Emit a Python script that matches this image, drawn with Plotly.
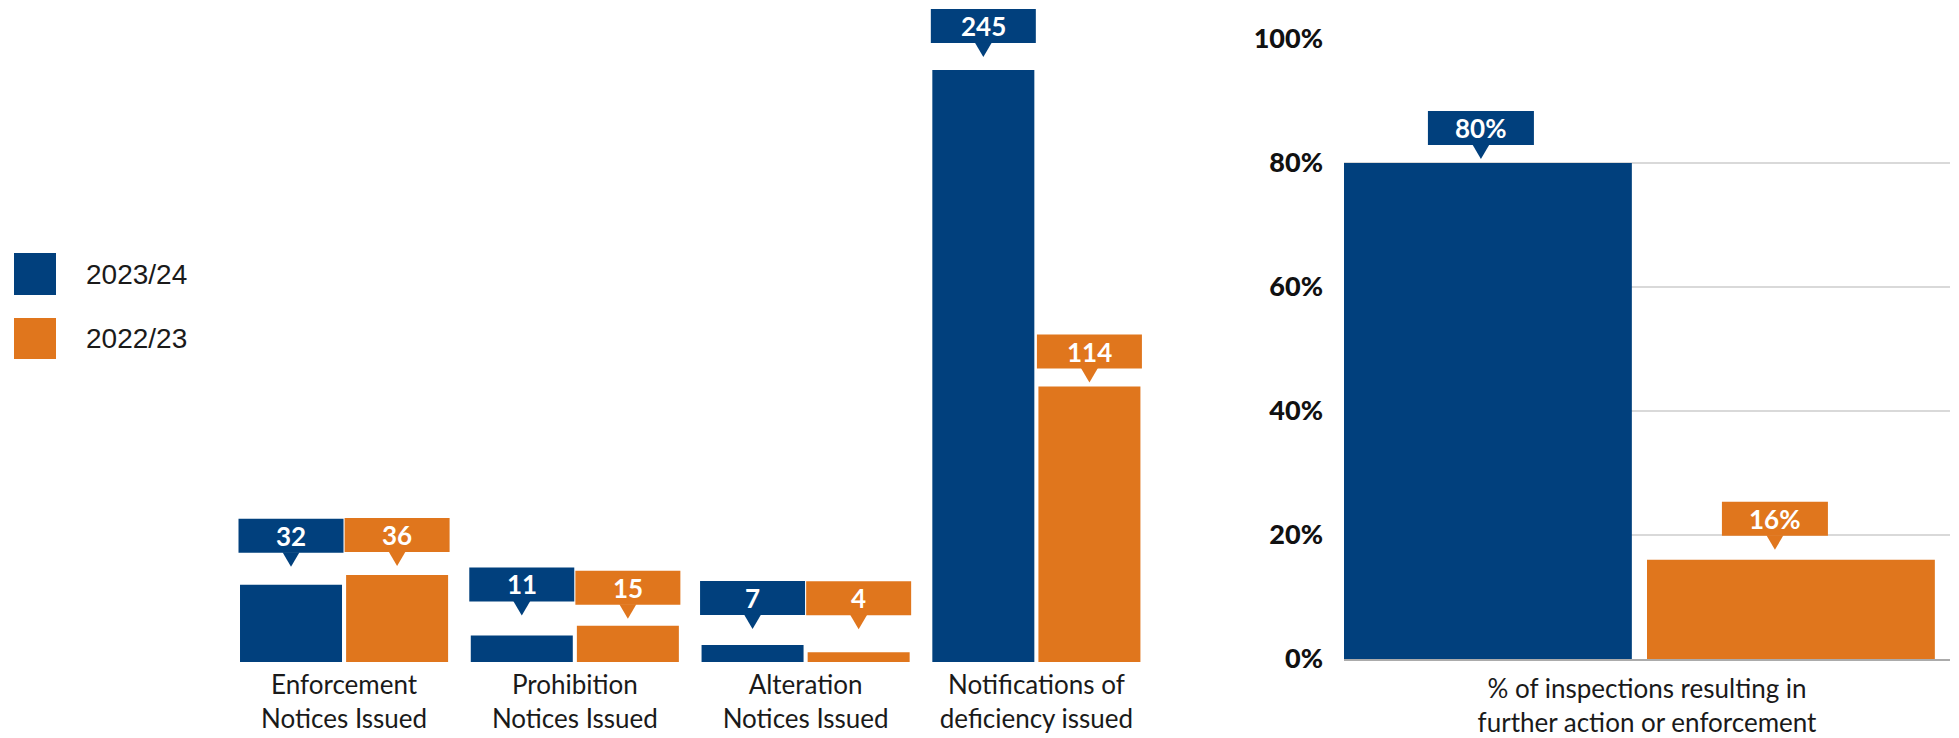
import plotly.graph_objects as go

# ---------------- data ----------------
categories = [
    "Enforcement<br>Notices Issued",
    "Prohibition<br>Notices Issued",
    "Alteration<br>Notices Issued",
    "Notifications of<br>deficiency issued",
]
series_names = ["2023/24", "2022/23"]
values_2023_24 = [32, 11, 7, 245]
values_2022_23 = [36, 15, 4, 114]

pct_category = ["% of inspections resulting in<br>further action or enforcement"]
pct_2023_24 = [80]
pct_2022_23 = [16]
pct_ticks = [0, 20, 40, 60, 80, 100]
pct_tick_labels = ["0%", "20%", "40%", "60%", "80%", "100%"]

# ---------------- style ----------------
W, H = 1959, 738
BLUE = "#01407D"
ORANGE = "#E0761D"
FONT = "Lato"
TXT = "#1a1a1a"


def fx(p):
    return p / W


def fy(p):
    return 1 - p / H


# bar geometry (category units)
BW_L, OFF_B_L, OFF_O_L = 0.442, -0.451, 0.0087
BW_R, OFF_B_R, OFF_O_R = 0.475, -0.5, 0.0

# callout styling (pixel gaps between bar top and box bottom)
gap_blue_left = [32, 34, 30, 27]
gap_orange_left = [23, 21, 37, 18]
gap_right = [18, 24]
xshift_right = [-7, -16]
BOX_H = 34
TRI_H = 14
TRI_W = 17

fig = go.Figure()

fig.add_trace(go.Bar(x=categories, y=values_2023_24, name=series_names[0],
                     marker=dict(color=BLUE, line=dict(width=0)),
                     width=[BW_L] * len(categories), offset=OFF_B_L,
                     xaxis="x", yaxis="y", hoverinfo="skip", showlegend=False))
fig.add_trace(go.Bar(x=categories, y=values_2022_23, name=series_names[1],
                     marker=dict(color=ORANGE, line=dict(width=0)),
                     width=[BW_L] * len(categories), offset=OFF_O_L,
                     xaxis="x", yaxis="y", hoverinfo="skip", showlegend=False))
fig.add_trace(go.Bar(x=pct_category, y=pct_2023_24, name=series_names[0],
                     marker=dict(color=BLUE, line=dict(width=0)),
                     width=[BW_R], offset=OFF_B_R,
                     xaxis="x2", yaxis="y2", hoverinfo="skip", showlegend=False))
fig.add_trace(go.Bar(x=pct_category, y=pct_2022_23, name=series_names[1],
                     marker=dict(color=ORANGE, line=dict(width=0)),
                     width=[BW_R], offset=OFF_O_R,
                     xaxis="x2", yaxis="y2", hoverinfo="skip", showlegend=False))

shapes = []
annotations = []


def callout(xref, yref, xc, yv, text, color, gap, xshift, boxw):
    shapes.append(dict(type="rect", xref=xref, yref=yref,
                       xsizemode="pixel", ysizemode="pixel",
                       xanchor=xc, yanchor=yv,
                       x0=xshift - boxw / 2, x1=xshift + boxw / 2,
                       y0=gap, y1=gap + BOX_H,
                       fillcolor=color, line=dict(width=0), layer="above"))
    shapes.append(dict(type="path", xref=xref, yref=yref,
                       xsizemode="pixel", ysizemode="pixel",
                       xanchor=xc, yanchor=yv,
                       path=f"M {xshift - TRI_W / 2},{gap + 0.5} L {xshift + TRI_W / 2},{gap + 0.5} L {xshift},{gap - TRI_H} Z",
                       fillcolor=color, line=dict(width=0), layer="above"))
    annotations.append(dict(x=xc, y=yv, xref=xref, yref=yref, text=f"<b>{text}</b>",
                            showarrow=False, xshift=xshift, yshift=gap + BOX_H / 2,
                            font=dict(family=FONT, size=26, color="white"),
                            xanchor="center", yanchor="middle"))


for i, v in enumerate(values_2023_24):
    callout("x", "y", i + OFF_B_L + BW_L / 2, v, str(v), BLUE, gap_blue_left[i], 0, 105)
for i, v in enumerate(values_2022_23):
    callout("x", "y", i + OFF_O_L + BW_L / 2, v, str(v), ORANGE, gap_orange_left[i], 0, 105)
callout("x2", "y2", OFF_B_R + BW_R / 2, pct_2023_24[0], f"{pct_2023_24[0]}%", BLUE,
        gap_right[0], xshift_right[0], 106)
callout("x2", "y2", OFF_O_R + BW_R / 2, pct_2022_23[0], f"{pct_2022_23[0]}%", ORANGE,
        gap_right[1], xshift_right[1], 106)

# manual legend
legend_rows = [(253, 295), (318, 359)]
for name, color, (t, b) in zip(series_names, [BLUE, ORANGE], legend_rows):
    shapes.append(dict(type="rect", xref="paper", yref="paper",
                       x0=fx(14), x1=fx(56), y0=fy(b), y1=fy(t),
                       fillcolor=color, line=dict(width=0)))
    annotations.append(dict(x=fx(84), y=fy((t + b) / 2), xref="paper", yref="paper",
                            text=name, showarrow=False, xanchor="left", yanchor="middle",
                            font=dict(family="Liberation Sans", size=28, color=TXT)))

fig.update_layout(
    width=W, height=H,
    margin=dict(l=0, r=0, t=0, b=0),
    paper_bgcolor="white", plot_bgcolor="white",
    barmode="overlay",
    showlegend=False,
    font=dict(family=FONT, color=TXT),
    shapes=shapes,
    annotations=annotations,
    xaxis=dict(domain=[fx(228.7), fx(1151.8)], range=[-0.5, 3.5], type="category",
               showgrid=False, showline=False, zeroline=False, ticks="",
               ticklabelstandoff=5,
               tickfont=dict(family=FONT, size=26, color=TXT), automargin=False,
               anchor="y", fixedrange=True),
    yaxis=dict(domain=[fy(662), 1.0], range=[0, 274], visible=False,
               anchor="x", fixedrange=True),
    xaxis2=dict(domain=[fx(1344), fx(1950)], range=[-0.5, 0.5], type="category",
                showgrid=False, showline=True, linecolor="#ababab", linewidth=2,
                zeroline=False, ticks="", ticklabelstandoff=6,
                tickfont=dict(family=FONT, size=26, color=TXT), automargin=False,
                anchor="y2", fixedrange=True),
    yaxis2=dict(domain=[fy(659), fy(39)], range=[0, 100], tickvals=pct_ticks,
                ticktext=pct_tick_labels, showgrid=True, gridcolor="#d9d9d9",
                gridwidth=1.5, zeroline=False, showline=False, ticks="",
                ticklabelstandoff=20,
                tickfont=dict(family=FONT, size=27, color="#111111", weight=900),
                automargin=False, anchor="x2", fixedrange=True),
)

fig.write_html("out.html")
